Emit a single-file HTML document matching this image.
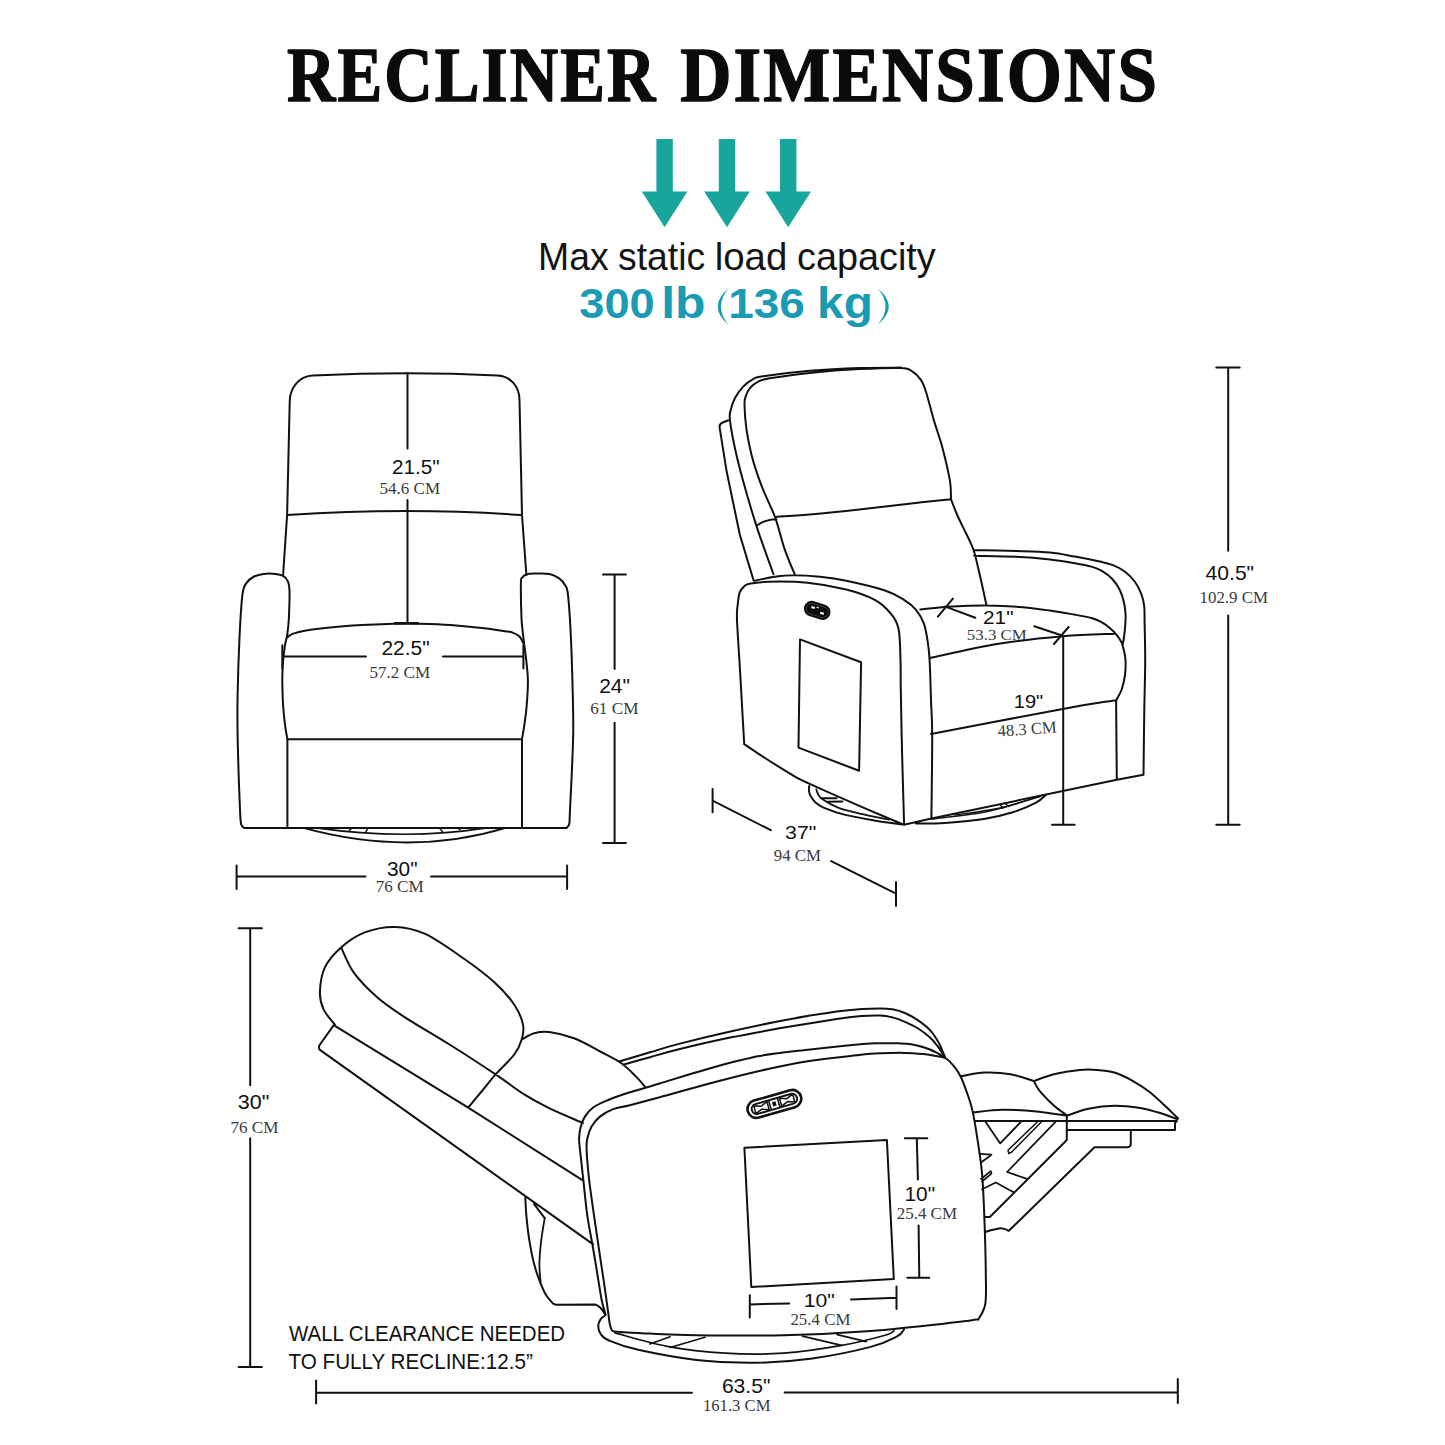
<!DOCTYPE html>
<html><head><meta charset="utf-8"><title>Recliner Dimensions</title>
<style>html,body{margin:0;padding:0;background:#fff}body{width:1445px;height:1445px;overflow:hidden;font-family:"Liberation Sans",sans-serif}svg{display:block}</style>
</head><body>
<svg width="1445" height="1445" viewBox="0 0 1445 1445">
<rect width="1445" height="1445" fill="#fff"/>
<text transform="translate(287,100.6) scale(0.858,1)" font-family="Liberation Serif, serif" font-size="78.2" font-weight="bold" fill="#0b0b0b" stroke="#0b0b0b" stroke-width="1.5" stroke-linejoin="round" letter-spacing="2.4">RECLINER</text>
<text transform="translate(680.2,100.6) scale(0.907,1)" font-family="Liberation Serif, serif" font-size="78.2" font-weight="bold" fill="#0b0b0b" stroke="#0b0b0b" stroke-width="1.5" stroke-linejoin="round" letter-spacing="2.4">DIMENSIONS</text>
<path d="M656.4,139h16.4v52.6h14.6l-22.8,35.6l-22.8,-35.6h14.6z" fill="#17a59c"/>
<path d="M718.8,139h16.4v52.6h14.6l-22.8,35.6l-22.8,-35.6h14.6z" fill="#17a59c"/>
<path d="M780,139h16.4v52.6h14.6l-22.8,35.6l-22.8,-35.6h14.6z" fill="#17a59c"/>
<text transform="translate(538.1,270) scale(0.959,1)" font-family="Liberation Sans, sans-serif" font-size="39" fill="#141414">Max</text>
<text transform="translate(618,270) scale(0.959,1)" font-family="Liberation Sans, sans-serif" font-size="39" fill="#141414">static</text>
<text transform="translate(714.7,270) scale(0.985,1)" font-family="Liberation Sans, sans-serif" font-size="39" fill="#141414">load</text>
<text transform="translate(797,270) scale(0.970,1)" font-family="Liberation Sans, sans-serif" font-size="39" fill="#141414">capacity</text>
<text transform="translate(579.3,318.1) scale(1.072,1)" font-family="Liberation Sans, sans-serif" font-size="42.2" font-weight="bold" fill="#1a9bb3">300</text>
<text transform="translate(661.2,318.1) scale(1.141,1)" font-family="Liberation Sans, sans-serif" font-size="43.7" font-weight="bold" fill="#1a9bb3">lb</text>
<text transform="translate(728.2,318.1) scale(1.088,1)" font-family="Liberation Sans, sans-serif" font-size="42.2" font-weight="bold" fill="#1a9bb3">136</text>
<text transform="translate(817.1,318.1) scale(1.092,1)" font-family="Liberation Sans, sans-serif" font-size="43.7" font-weight="bold" fill="#1a9bb3">kg</text>
<path d="M728.4,288.2Q707,306.5 728.4,324.7Q713.6,306.5 728.4,288.2ZM877.7,288.2Q899.9,306.5 877.7,324.7Q893.3,306.5 877.7,288.2Z" fill="#1a9bb3"/>
<path d="M283.1,575L287.1,515L289.7,402C289.7,387 299.7,376 313,375.5Q408,370.9 497.5,375.5C510,376 519.4,386 519.5,400L522,515L526.4,575M287.1,515.1Q408,506.9 521.9,515.1M244.4,828C243.9,827.4 241.9,827.2 241.2,824.5C240.5,821.8 240.5,820.4 240.1,811.8C239.7,803.2 239,786 238.6,773.1C238.2,760.2 237.8,747.2 237.6,734.3C237.4,721.4 237.3,711.7 237.6,695.6C237.9,679.5 238.7,654.3 239.5,637.5C240.3,620.7 241.3,603.9 242.4,594.9C243.5,585.9 244.4,586.3 246.3,583.2C248.2,580.1 251.2,578 254.1,576.5C257,575 260.1,574.3 263.7,573.9C267.2,573.5 272.2,573.6 275.4,573.9C278.6,574.2 281,574.7 283.1,575.9C285.2,577.1 286.8,578.8 287.9,581.3C289,583.8 289.3,584.9 289.5,591C289.7,597.1 289.2,611 288.9,618.1C288.5,625.2 288,629.1 287.4,633.6C286.8,638.1 285.7,640.7 285,645.2C284.3,649.7 283.6,654.9 283.1,660.7C282.7,666.5 282.3,672.7 282.3,680.1C282.3,687.5 282.7,697.9 283.1,705.3C283.6,712.7 284.3,719.1 285,724.7C285.7,730.4 287,736.8 287.4,739.2M566.6,827.9C567,827.2 568.7,826.7 569.2,824C569.8,821.3 569.5,820.3 569.9,811.8C570.3,803.3 571.2,786 571.8,773.1C572.3,760.2 573,747.2 573.2,734.3C573.4,721.4 573.2,711.7 572.8,695.6C572.4,679.5 571.7,654.3 570.9,637.5C570.1,620.7 569,603.6 568,594.9C567,586.2 566.6,588 565.1,585.2C563.6,582.5 561.8,580.3 559.2,578.4C556.6,576.5 553.8,574.7 549.6,573.9C545.4,573.1 538,573.5 534.1,573.6C530.2,573.7 528.2,573.9 526.3,574.5C524.3,575.1 523.3,575.9 522.4,577.4C521.5,578.9 521,576.4 520.9,583.2C520.8,590 521.1,609.1 521.5,618.1C521.9,627.1 522.6,630.4 523.4,637.5C524.2,644.6 525.5,653.6 526.3,660.7C527,667.8 527.8,672.7 527.9,680.1C528,687.5 527.3,697.9 526.7,705.3C526.1,712.7 525.2,719.1 524.4,724.7C523.6,730.4 522.4,736.8 522,739.2M287.4,637.5C288,637 289.3,635.4 290.9,634.6C292.4,633.8 293.7,633.4 296.7,632.6C299.7,631.8 302.5,630.9 308.9,630C315.3,629.1 326.4,627.9 335.2,627.1C344,626.3 352.7,625.6 361.5,625.1C370.3,624.6 380.1,624.2 387.8,624C395.5,623.8 400.5,623.6 407.5,623.6C414.5,623.6 421.9,623.7 430,624C438.1,624.3 447.3,624.7 456,625.4C464.7,626.1 473.8,627 482,628C490.2,629 499.9,630.5 505,631.3C510.1,632.1 510.3,631.7 512.7,632.6C515.1,633.5 517.7,634.7 519.5,636.5C521.3,638.3 522.8,642.2 523.4,643.3M287.4,739.2L522,739.2M287.4,739.2L287.4,828M522,739.2L522,828M244.4,828L566.6,828M303.4,827.9Q409.6,857 505.8,827.9" fill="none" stroke="#111" stroke-width="2" stroke-linecap="round" stroke-linejoin="round"/>
<path d="M316,827.9Q406,840.5 486.9,827.9" fill="none" stroke="#111" stroke-width="1.6" stroke-linecap="round" stroke-linejoin="round"/>
<path d="M352,827.9L349.3,830.6M368.2,827.9L365.5,832.4M439.2,827.9L442.8,832M458.1,827.9L460,829.7" fill="none" stroke="#111" stroke-width="1.4" stroke-linecap="round" stroke-linejoin="round"/>
<path d="M407.5,373L407.5,448.6M407.5,500L407.5,622.2M282.3,656.4L366,656.4M443,656.6L523.4,656.6M282.3,645.2L282.3,668.5M523.4,645.2L523.4,668.5M614.6,574.6L614.6,669M614.6,722.8L614.6,843M603,574.6L625.9,574.6M603,843L625.9,843M236.6,876.6L365.5,876.6M431,876.6L567.1,876.6M236.6,865.6L236.6,888.9M567.1,865.6L567.1,888.9" fill="none" stroke="#111" stroke-width="2" stroke-linecap="round" stroke-linejoin="round"/>
<path d="M395,623.2L418,623.2" fill="none" stroke="#111" stroke-width="2.4" stroke-linecap="round" stroke-linejoin="round"/>
<text transform="translate(392,473.6) scale(1.063,1)" font-family="Liberation Sans, sans-serif" font-size="19.5" fill="#111">21.5&quot;</text>
<text transform="translate(379.4,494.1) scale(1.022,1)" font-family="Liberation Serif, serif" font-size="16.7" fill="#3a3a3a">54.6 CM</text>
<text transform="translate(381.4,654.7) scale(1.071,1)" font-family="Liberation Sans, sans-serif" font-size="19.6" fill="#111">22.5&quot;</text>
<text transform="translate(369.4,677.5) scale(1.037,1)" font-family="Liberation Serif, serif" font-size="16.5" fill="#3a3a3a">57.2 CM</text>
<text transform="translate(599.2,693.4) scale(1.055,1)" font-family="Liberation Sans, sans-serif" font-size="19.9" fill="#111">24&quot;</text>
<text transform="translate(590.3,713.7) scale(1.086,1)" font-family="Liberation Serif, serif" font-size="15.8" fill="#3a3a3a">61 CM</text>
<text transform="translate(387,875.6) scale(1.068,1)" font-family="Liberation Sans, sans-serif" font-size="19.5" fill="#111">30&quot;</text>
<text transform="translate(375.7,892.2) scale(1.075,1)" font-family="Liberation Serif, serif" font-size="15.9" fill="#3a3a3a">76 CM</text>
<path d="M794.7,574.2C793,570.1 787.9,558.6 784.7,549.3C781.5,540 778.4,526.6 775.6,518.6C772.8,510.6 770.7,507.4 768.1,501.2C765.5,495 762.6,488.9 759.8,481.2C757,473.4 753.7,463.3 751.5,454.7C749.3,446.1 747.7,438 746.5,429.7C745.3,421.4 744.6,410.3 744.5,404.8C744.4,399.3 744.8,399.3 745.7,396.5C746.6,393.7 747.8,390.7 749.9,388.2C752,385.7 754.9,383.2 758.2,381.6C761.5,380 761.2,379.8 769.8,378.3C778.4,376.9 794.8,374.4 809.7,372.9C824.7,371.4 844.3,369.9 859.5,369.1C874.7,368.3 892.1,367.6 901,368C909.9,368.4 909.3,369.6 912.6,371.6C915.9,373.6 918.7,376.6 920.9,379.9C923.1,383.2 923.7,384.6 925.9,391.5C928.1,398.4 931.4,412 934.2,421.4C937,430.8 939.9,438 942.5,448C945.1,458 948.6,472.7 950,481.2C951.4,489.7 950.8,496.2 951,499.2M951,499.2C952,501.8 954.8,509.5 957,514.5C959.2,519.5 961.9,524.9 964.1,529.4C966.3,533.9 968.3,537.6 970,541.5C971.7,545.4 972.8,546.9 974.5,553C976.2,559.1 978.5,569.3 980.5,578C982.5,586.7 985.5,600.8 986.5,605.4M773.5,574.2C770.7,566.2 761.5,541.6 756.5,526.1C751.5,510.6 746.8,494.2 743.2,481.2C739.6,468.2 737.1,458.2 734.9,448C732.7,437.8 730.6,426.2 729.9,419.8C729.2,413.4 730,413.4 730.8,409.8C731.6,406.2 732.8,402.1 734.9,398.2C737,394.3 740.2,389.8 743.2,386.6C746.2,383.4 749.9,380.8 753.2,379.1C756.5,377.4 753.7,377.7 763.1,376.3C772.5,374.9 793.6,372.2 809.7,370.8C825.8,369.4 844.3,368.5 859.5,368C874.7,367.5 894.1,367.7 901,367.6M756.5,525.7C757.6,525.1 760.9,522.9 763.1,521.9C765.3,520.9 767.6,520.3 769.8,519.9C772,519.5 775.3,519.3 776.4,519.2M775.6,516.9C781.3,516.5 795.7,515.6 809.7,514.4C823.7,513.2 842.9,511.3 859.5,509.5C876.1,507.7 894,505.4 909.3,503.7C924.5,502 944,499.9 951,499.2M729.9,419.8L723.3,422.3Q719,424 719.6,427.4L726.6,471.3L739.9,535L753.6,580.4M744.2,744.1C743.5,731.8 741.2,690.7 740,670C738.8,649.3 737.4,631 737,620C736.6,609 737.3,608.6 737.8,604C738.2,599.4 738.7,595.3 739.7,592.4C740.7,589.5 742.4,588 744,586.5C745.6,585 745.3,584.5 749.4,583.7C753.5,582.9 759.1,581.9 768.8,581.7C778.5,581.5 794.6,581.4 807.5,582.7C820.4,584 835,586.6 846.3,589.5C857.6,592.4 867.9,596.1 875.3,600.1C882.7,604.1 886.9,608.9 890.8,613.7C894.7,618.6 897,621.5 898.6,629.2C900.2,636.9 900.1,649.9 900.5,660C900.9,670.1 900.5,674.4 900.8,690C901.1,705.6 901.5,731.4 902.1,753.8C902.7,776.2 903.8,812.7 904.1,824.5M744.2,744.1C747.7,746.4 757.4,753.1 765,758C772.6,762.9 783.9,769.9 790,773.6C796.1,777.3 794.9,776.9 801.7,780.2C808.5,783.5 821.1,789.1 830.8,793.4C840.5,797.7 850.2,802 859.9,806.2C869.6,810.4 881.5,815.4 888.9,818.5C896.2,821.6 901.5,823.7 904,824.7M754.2,580.8C757.7,580.1 768.4,577.7 775,576.8C781.6,575.9 786.4,575.3 793.9,575.3C801.4,575.3 811.3,575.9 820,576.8C828.7,577.7 835.5,578.5 846.3,580.8C857.1,583.1 875.3,587.3 885,590.5C894.7,593.7 899.2,596.9 904.4,600.1C909.6,603.3 912.8,605.9 916,609.8C919.2,613.7 921.9,618.2 923.8,623.4C925.7,628.6 926.6,634.7 927.6,640.8C928.6,646.9 929,650.1 929.6,660C930.2,669.9 930.6,687.6 931,700C931.4,712.4 932.1,714.6 932.2,734.4C932.3,754.2 931.5,804.6 931.4,818.6M904,824.7L931.5,818.5L1116.9,779.7L1143.5,774.7M930,658C941.1,655.7 974.8,647.6 996.9,644C1019,640.4 1043.1,637.9 1062.8,636.2C1082.5,634.5 1106.1,634.1 1114.8,633.7M931,734.1C953,729.9 1032,714.5 1062.8,708.9C1093.6,703.2 1107.2,701.7 1116.1,700.2M1116.1,700.2L1116.8,779.7M920.3,609.5C925.7,609 941.4,607.1 952.5,606.5C963.6,605.9 976,605.5 987.2,605.6C998.5,605.7 1009.5,606.2 1020,607C1030.5,607.8 1040.8,609.3 1050,610.6C1059.2,611.9 1068,613.5 1074.9,614.7C1081.8,615.9 1087.1,616.8 1091.5,618C1095.9,619.2 1098.5,620.5 1101.5,622.2C1104.5,623.9 1107.3,625.9 1109.8,628C1112.3,630.1 1114.5,632.2 1116.4,634.6C1118.3,637 1120.2,639.5 1121.4,642.1C1122.6,644.7 1123.1,647 1123.8,650C1124.5,653 1125.3,655.8 1125.5,660C1125.7,664.2 1125.7,670 1125,675C1124.3,680 1123,685.8 1121.5,690C1120,694.2 1117,698.5 1116.1,700.2M973.6,550C980.7,550.2 1003.6,550.6 1016.3,551C1029,551.4 1040.2,551.6 1050,552.5C1059.8,553.4 1066.6,555.1 1074.9,556.6C1083.2,558.1 1093.6,560.2 1099.8,561.6C1106,563 1108.1,563.2 1112.3,564.9C1116.5,566.5 1121,568.7 1124.7,571.5C1128.4,574.3 1131.9,577.8 1134.7,581.5C1137.5,585.2 1139.7,589.9 1141.3,594C1142.9,598.1 1143.7,601.6 1144.2,606.4C1144.8,611.2 1144.4,614.1 1144.6,623C1144.8,631.9 1145.2,645.5 1145.2,660C1145.2,674.5 1144.6,690.9 1144.3,710C1144,729.1 1143.6,763.9 1143.5,774.7M974.2,555.8C981.2,556 1003.7,556.2 1016.3,556.8C1028.9,557.4 1040.2,558.4 1050,559.5C1059.8,560.6 1068,562 1074.9,563.2C1081.8,564.4 1087.1,565.4 1091.5,566.6C1095.9,567.9 1098,568.6 1101.5,570.7C1105,572.8 1109.3,575.8 1112.3,579C1115.3,582.2 1117.8,585.9 1119.7,589.8C1121.6,593.7 1122.9,598.1 1123.9,602.3C1124.9,606.4 1125.4,610.6 1125.6,614.7C1125.8,618.9 1125.4,623.3 1125.1,627.2C1124.8,631.1 1124.3,635.1 1123.9,638C1123.5,640.9 1122.8,643.5 1122.6,644.6M800,639.4L861.1,662.3L859.1,770.8L798.5,747.6ZM809.2,786C809.2,786.8 808.8,789.3 809,791C809.2,792.7 809.5,794.1 810.6,796C811.7,797.9 813.4,800.5 815.5,802.4C817.6,804.3 818.5,805.5 823.5,807.6C828.5,809.7 836.8,812.8 845.3,814.9C853.8,817 864.8,818.8 874.4,820.4C884,822 898.2,823.8 903,824.5M916,823.6C920.8,823.5 933.7,823.8 945,823C956.3,822.2 972.5,820.9 983.8,819.1C995.1,817.3 1004.1,815 1012.8,812.3C1021.5,809.5 1030.6,805.5 1036.1,802.6C1041.6,799.7 1044.2,796.2 1045.8,794.9M822.5,798.2L836.6,798.2M827.9,801.8L842.4,801.5" fill="none" stroke="#111" stroke-width="2" stroke-linecap="round" stroke-linejoin="round"/>
<path d="M816.3,789.4C816.6,790.2 817,792.4 818,794C819,795.6 818.8,796.6 822.1,798.9C825.5,801.2 831.8,805.1 838.1,807.6C844.4,810.1 851.4,811.6 859.9,813.6C868.4,815.6 884.1,818.6 888.9,819.6" fill="none" stroke="#111" stroke-width="1.8" stroke-linecap="round" stroke-linejoin="round"/>
<path d="M931.5,819.1C940.2,818 968.6,815.2 983.8,812.3C999,809.4 1013.1,804.3 1022.5,801.7C1031.9,799.1 1037.1,797.4 1040,796.5" fill="none" stroke="#111" stroke-width="1.5" stroke-linecap="round" stroke-linejoin="round"/>
<path d="M954.7,815.2C962.8,813.9 990.5,810.2 1003.2,807.5C1016,804.8 1026.5,800.2 1031.2,798.8" fill="none" stroke="#111" stroke-width="1.3" stroke-linecap="round" stroke-linejoin="round"/>
<path d="M1000.2,805L1003.2,808M1006,804.2L1009,806.5" fill="none" stroke="#111" stroke-width="1.4" stroke-linecap="round" stroke-linejoin="round"/>
<g transform="translate(817.2,610.4) rotate(17.5)"><rect x="-13.6" y="-7.8" width="27.2" height="15.6" rx="7.8" fill="#0a0a0a"/><rect x="-11.2" y="-5.4" width="22.4" height="10.8" rx="5.4" fill="none" stroke="#555" stroke-width="0.6"/><rect x="-6.6" y="-2.6" width="3.6" height="2.2" fill="#fff"/><rect x="3.6" y="0.2" width="3.8" height="2.2" fill="#fff"/><rect x="-1.6" y="-3.6" width="2.4" height="1.3" fill="#ddd"/></g>
<path d="M945.4,606.6L975.3,617.8M937.9,616.6L952.9,598.6M1034.3,626.2L1062.8,635.7M1054,644L1068.6,627M1063.2,635.7L1063.2,824.8M1052,824.8L1074.7,824.8M712.6,789L712.6,812.3M712.6,800.7L770.8,830.2M831.2,861.1L896,893.7M896,882L896,906M1228.2,367.6L1228.2,550.7M1228.2,615.5L1228.2,824.7M1216.3,367.6L1239.7,367.6M1216.3,824.7L1239.7,824.7" fill="none" stroke="#111" stroke-width="2" stroke-linecap="round" stroke-linejoin="round"/>
<text transform="translate(983,623.9) scale(1.125,1)" font-family="Liberation Sans, sans-serif" font-size="18.5" fill="#111">21&quot;</text>
<text transform="translate(966.8,639.9) scale(1.112,1)" font-family="Liberation Serif, serif" font-size="15.2" fill="#3a3a3a">53.3 CM</text>
<text transform="translate(1013.8,707.6) scale(1.061,1)" font-family="Liberation Sans, sans-serif" font-size="18.9" fill="#111">19&quot;</text>
<text transform="translate(998.1,736.6) rotate(-4) scale(0.994,1)" font-family="Liberation Serif, serif" font-size="16.7" fill="#3a3a3a">48.3 CM</text>
<text transform="translate(785,838.9) scale(1.119,1)" font-family="Liberation Sans, sans-serif" font-size="19.1" fill="#111">37&quot;</text>
<text transform="translate(773.8,861.1) scale(1.039,1)" font-family="Liberation Serif, serif" font-size="16.2" fill="#3a3a3a">94 CM</text>
<text transform="translate(1205.6,580.4) scale(1.044,1)" font-family="Liberation Sans, sans-serif" font-size="20.2" fill="#111">40.5&quot;</text>
<text transform="translate(1199.5,602.9) scale(1.026,1)" font-family="Liberation Serif, serif" font-size="16.5" fill="#3a3a3a">102.9 CM</text>
<path d="M334.9,1024.6C333,1022.1 326.2,1015.1 323.7,1009.7C321.2,1004.3 319.7,999.3 319.9,992.2C320.1,985.1 321.4,974.8 324.9,967.3C328.4,959.8 334.5,953.2 341.1,947.4C347.8,941.6 355.9,935.8 364.8,932.4C373.7,929 384.7,926.7 394.7,926.9C404.7,927.1 413.4,928.6 424.6,933.7C435.8,938.8 450.3,949.2 461.9,957.3C473.5,965.4 485.6,974.3 494.3,982.2C503,990.1 509.5,997.6 514.3,1004.7C519.1,1011.8 521.8,1018.8 523,1024.6C524.2,1030.4 523.2,1034.5 521.7,1039.5C520.2,1044.5 518.6,1048.7 514.3,1054.5C509.9,1060.3 501,1068.3 495.6,1074.4C490.2,1080.5 486.6,1085.5 482,1091C477.4,1096.5 470.5,1104.8 468.2,1107.6M341.1,947.4C343.2,951.5 347.6,964 353.6,972.3C359.6,980.6 368.7,989.7 377.2,997.2C385.7,1004.7 392.6,1009.2 404.6,1017.1C416.7,1025 434.3,1035 449.5,1044.5C464.7,1054 483.2,1066.1 495.6,1074.4C508.1,1082.7 515.3,1088.8 524.2,1094.4C533.1,1100 539.3,1103.3 549.1,1108.1C558.9,1112.9 577.2,1120.5 582.8,1123M334.9,1025.8L468.2,1107.6L583.6,1180.8M333.6,1025.4L319.6,1045Q317.8,1048.4 320.6,1050.4L593.2,1244.4M521.7,1039.5C523.8,1038.5 529.6,1034.5 534.2,1033.3C538.8,1032.1 542.5,1031.3 549.1,1032.1C555.7,1032.9 565.7,1035.2 574,1038.3C582.3,1041.4 591.1,1046.6 599,1050.8C606.9,1055 615.2,1058.8 621.4,1063.2C627.6,1067.6 632.3,1072.9 636.3,1076.9C640.3,1080.9 644,1085.5 645.5,1087.2M620,1061.3C625,1059.8 640.2,1055.2 650,1052.3C659.8,1049.4 665.3,1047.4 678.9,1043.9C692.5,1040.4 714,1035.2 731.5,1031.3C749,1027.3 766.6,1023.5 784.1,1020.2C801.6,1016.9 823.7,1013.5 836.7,1011.6C849.7,1009.7 854.8,1009.5 862,1009C869.2,1008.5 874.9,1008.4 880,1008.4C885.1,1008.4 888.4,1008.5 892.5,1009.3C896.6,1010.1 900.8,1011.2 904.9,1013C909,1014.8 913.2,1017.1 917.4,1019.9C921.5,1022.7 926.3,1026.2 929.8,1029.9C933.3,1033.6 936.2,1038.4 938.5,1042.3C940.8,1046.2 942.4,1050.9 943.5,1053.5C944.6,1056.1 945.1,1057.2 945.4,1057.9M623,1064.8C627.5,1063.5 640.7,1059.8 650,1057.2C659.3,1054.6 665.3,1052.5 678.9,1049.2C692.5,1045.9 714,1040.9 731.5,1037.3C749,1033.7 766.6,1030.7 784.1,1027.6C801.6,1024.5 823.7,1020.8 836.7,1018.9C849.7,1017 854.8,1016.6 862,1016C869.2,1015.4 874.9,1015.3 880,1015.5C885.1,1015.7 888.4,1016.4 892.5,1017.4C896.6,1018.4 900.8,1020 904.9,1021.8C909,1023.6 913.2,1025.4 917.4,1028C921.5,1030.6 926.3,1034.1 929.8,1037.3C933.3,1040.5 936.1,1044.1 938.5,1047.3C940.9,1050.5 943.2,1055 944.2,1056.6M605.7,1314.9C605.4,1313.9 604.7,1311.7 604,1309.1C603.3,1306.5 602.6,1305 601.5,1299.2C600.4,1293.4 598.9,1283.4 597.4,1274.3C595.9,1265.2 594.1,1254.1 592.4,1244.4C590.7,1234.7 588.9,1227 587.4,1216.2C585.9,1205.4 584.5,1190.8 583.3,1179.7C582.1,1168.6 580.7,1156.7 580,1149.8C579.3,1142.9 579,1142.1 579.1,1138.2C579.2,1134.3 579.8,1130.2 580.8,1126.6C581.8,1123 582.8,1119.8 584.9,1116.6C587,1113.4 589.3,1110.3 593.2,1107.5C597.1,1104.7 603.4,1102.1 608.2,1100C613.1,1097.9 613.7,1097.5 622.3,1094.7C630.9,1092 645.2,1087.9 659.7,1083.5C674.2,1079.1 692.9,1073.1 709.5,1068.5C726.1,1063.9 742.5,1059.3 759.3,1056.1C776.1,1052.9 793.1,1051.5 810.4,1049.5C827.7,1047.5 851.4,1045 863,1044C874.6,1043 874,1043.4 880,1043.3C886,1043.2 893.5,1043.1 898.7,1043.3C903.9,1043.5 907,1043.5 911.1,1044.2C915.2,1044.9 919.4,1046 923.6,1047.3C927.8,1048.6 932.5,1050.5 936.1,1052.3C939.7,1054.1 943.9,1057 945.4,1057.9M618.1,1331.8C617.1,1331.6 613.7,1332 612.3,1330.7C610.9,1329.4 610.5,1327.1 609.8,1324.1C609.1,1321 609.2,1319.3 608.2,1312.4C607.2,1305.5 605.5,1293.1 604,1282.6C602.5,1272.1 600.6,1260.5 599,1249.4C597.4,1238.3 595.8,1227.8 594.1,1216.2C592.5,1204.6 590.4,1190.8 589.1,1179.7C587.9,1168.6 586.9,1156.7 586.6,1149.8C586.3,1142.9 586.6,1142.1 587.4,1138.2C588.2,1134.3 589.5,1130.2 591.6,1126.6C593.7,1123 596.3,1119.5 599.9,1116.6C603.5,1113.7 608.2,1111 613.2,1109.1C618.2,1107.2 622,1107.2 629.8,1105.2C637.5,1103.2 646.4,1100.8 659.7,1097.2C673,1093.6 692.9,1087.9 709.5,1083.5C726.1,1079.1 742.7,1074.8 759.3,1071C775.9,1067.2 792.5,1063.7 809.1,1061C825.7,1058.3 847.2,1056.3 859,1055C870.8,1053.7 872.4,1053.6 880,1053.3C887.6,1053 897.6,1052.8 904.9,1052.9C912.2,1053 918.4,1053.6 923.6,1054.1C928.8,1054.6 932.4,1055.3 936.1,1056C939.8,1056.7 942.9,1056.6 946,1058.5C949.1,1060.4 952.2,1064.1 954.7,1067.2C957.2,1070.3 958.9,1072.8 961,1077.2C963.1,1081.6 965.3,1088 967.2,1093.4C969.1,1098.8 970.6,1102.3 972.2,1109.6C973.9,1116.9 975.5,1126.2 977.1,1137C978.8,1147.8 980.9,1159.9 982.1,1174.4C983.4,1188.9 984,1207.6 984.6,1224.2C985.2,1240.8 985.7,1260.8 985.8,1274.1C985.9,1287.4 986.5,1296.4 985.3,1304C984,1311.6 979.5,1317 978.3,1319.6M618.1,1331.8C623.4,1332.1 637,1333 650,1333.6C663,1334.2 674,1334.9 696.3,1335.2C718.5,1335.5 754.4,1335.9 783.5,1335.2C812.6,1334.5 841.6,1333.1 870.7,1330.9C899.8,1328.7 940,1324 957.9,1322.1C975.8,1320.1 974.8,1319.7 978.2,1319.2M744.4,1147.7L886.9,1140L893.8,1279L751.3,1287ZM525.3,1197.6C525.5,1200.8 525.8,1209.9 526.5,1217.1C527.2,1224.3 528.1,1232.8 529.4,1240.6C530.7,1248.4 532.3,1257.2 534.1,1264.1C535.9,1271 538,1276.7 540,1281.8C542,1286.9 543.8,1291.1 545.9,1294.7C548,1298.3 551.7,1302 552.9,1303.5M534.1,1204.1L544.7,1218.2M552.9,1303.5L556,1304.8L594.9,1304.5Q600.7,1306 604.9,1314.1M605.7,1314.9C604.9,1315.6 602,1317.3 600.7,1319.1C599.5,1320.9 598.2,1323.2 598.2,1325.7C598.2,1328.2 598.9,1331.5 600.7,1334C602.5,1336.5 602.9,1337.9 609.1,1340.5C615.3,1343.1 623.6,1346.6 638.1,1349.8C652.6,1353 676.9,1357.7 696.3,1359.9C715.7,1362.1 735,1363 754.4,1362.8C773.8,1362.6 793.1,1361.2 812.5,1358.5C831.9,1355.8 856.7,1350.5 870.7,1346.9C884.8,1343.3 891.2,1339.6 896.8,1336.7C902.4,1333.8 902.9,1330.6 904.1,1329.4M962.1,1076C965.9,1075.4 976.5,1072.8 984.6,1072.5C992.7,1072.2 1002.4,1072.8 1010.6,1074.2C1018.8,1075.6 1030,1079.9 1033.9,1081.1M1033.9,1081.1C1034.4,1082.1 1035.7,1085 1037,1087C1038.3,1089 1038.9,1090.2 1041.7,1093.3C1044.5,1096.4 1049.6,1101.7 1053.8,1105.4C1058,1109.1 1064.6,1113.7 1066.8,1115.4M973.4,1112.3C978.1,1111.9 991.4,1109.8 1001.9,1109.7C1012.4,1109.6 1025.7,1110.4 1036.5,1111.4C1047.3,1112.4 1061.8,1115 1066.8,1115.7M1033.9,1081.1C1037.2,1079.9 1046.2,1076.1 1053.8,1074.2C1061.4,1072.3 1072.6,1070.6 1079.8,1069.9C1087,1069.2 1091.3,1069.5 1097.1,1069.9C1102.9,1070.3 1108.6,1070.8 1114.4,1072.5C1120.2,1074.2 1125.9,1077.1 1131.7,1080.3C1137.5,1083.5 1143.2,1087 1149,1091.5C1154.8,1096 1161.5,1102.6 1166.3,1107.1C1171.1,1111.6 1176,1116.4 1178,1118.3M1066.8,1115.7C1070.4,1114.5 1080.5,1110.5 1088.4,1108.8C1096.3,1107.1 1105.8,1105.8 1114.4,1105.7C1123.1,1105.6 1133.1,1106.9 1140.3,1108C1147.5,1109.1 1151.4,1110.4 1157.6,1112.3C1163.8,1114.2 1174.2,1118 1177.5,1119.2M975.5,1121L1176.8,1121L1175,1123L1175,1129.9L1066.8,1129.9M1066.8,1116L1066.8,1140M1130.8,1129.9L1130.8,1144.3Q1130.6,1147.2 1127.8,1147.2L1094.5,1147.2L1008.8,1230.8Q1002,1227 996.7,1229.1Q990,1230 985.5,1232M1066.8,1140L989.8,1217L984.6,1217" fill="none" stroke="#111" stroke-width="2" stroke-linecap="round" stroke-linejoin="round"/>
<path d="M544.7,1218.2C544.1,1221.9 542.1,1232.9 541.2,1240.6C540.3,1248.2 539.5,1257.2 539.4,1264.1C539.3,1271 540.4,1278.8 540.6,1281.8M985.5,1121.8L1000.2,1143.4L1020.9,1121.8M1055.5,1121.8L1007.1,1172L1027,1178.9" fill="none" stroke="#111" stroke-width="1.8" stroke-linecap="round" stroke-linejoin="round"/>
<path d="M614.9,1332.9C623.6,1335.1 648.8,1342.9 667.2,1346.3C685.6,1349.7 705.9,1352 725.3,1353.2C744.7,1354.4 764.1,1354.5 783.5,1353.2C802.9,1351.9 824.6,1348.4 841.6,1345.4C858.6,1342.4 876.5,1337.6 885.2,1335.2C893.9,1332.8 892.5,1331.6 893.9,1330.9M982,1189.3L995.8,1182.4L1013.1,1191.9M979.5,1153.8L991.5,1154.7L981,1162.5M981,1179L990.7,1171.1L991.5,1173.7L982,1181.5" fill="none" stroke="#111" stroke-width="1.7" stroke-linecap="round" stroke-linejoin="round"/>
<path d="M649.8,1343.9L670.1,1336.7M670.1,1347.4L705,1337.3M802.4,1336.1L841.6,1345.4M837.2,1334.6L866.3,1341.6" fill="none" stroke="#111" stroke-width="1.6" stroke-linecap="round" stroke-linejoin="round"/>
<path d="M1037.5,1121.8L1008,1150.3L1008.8,1153.5L1011.5,1152.3L1041,1122.2" fill="none" stroke="#111" stroke-width="1.5" stroke-linecap="round" stroke-linejoin="round"/>
<g transform="translate(774.4,1103.9) rotate(-16)" fill="none" stroke="#111" stroke-linejoin="round"><rect x="-27.6" y="-8.8" width="55.2" height="17.6" rx="8.8" stroke-width="2.6"/><rect x="-23.4" y="-5" width="46.8" height="10" rx="5" stroke-width="1.9"/><path d="M-20.4,-3.9l6.9,2.5l6.9,-2.7v8.2l-6.9,-2.5l-6.9,2.7zM6.4,-4.1l6.9,2.5l6.9,-2.7v8.2l-6.9,-2.5l-6.9,2.7zM-4.6,-4.8v9.6M4.4,-4.8v9.6" stroke-width="1.5"/><rect x="-1.9" y="-2.2" width="3.6" height="4.4" fill="#111" stroke="none"/></g>
<path d="M916.8,1138.3L917.9,1179.4M918.6,1225.5L919.3,1277.8M904.8,1138.3L927.3,1138.3M907.3,1277.8L929.3,1277.8M749.8,1295.2L749.8,1317.6M749.8,1304.4L789.2,1303.5M851,1299.5L896.5,1297.7M896.5,1286.5L896.5,1308.9M250.2,928.3L250.2,1085.2M250.2,1138.3L250.2,1367M238.6,928.3L261.9,928.3M238.6,1367L261.9,1367M316.1,1380.5L316.1,1403.4M316.1,1392.7L692,1392.7M784.6,1392.6L1177.8,1392.6M1177.8,1379L1177.8,1403" fill="none" stroke="#111" stroke-width="2" stroke-linecap="round" stroke-linejoin="round"/>
<text transform="translate(904.5,1200.6) scale(1.037,1)" font-family="Liberation Sans, sans-serif" font-size="20.1" fill="#111">10&quot;</text>
<text transform="translate(896.7,1219.2) scale(1.067,1)" font-family="Liberation Serif, serif" font-size="15.9" fill="#3a3a3a">25.4 CM</text>
<text transform="translate(803.8,1307.4) scale(1.103,1)" font-family="Liberation Sans, sans-serif" font-size="19.2" fill="#111">10&quot;</text>
<text transform="translate(790.4,1325.2) scale(1.042,1)" font-family="Liberation Serif, serif" font-size="16.2" fill="#3a3a3a">25.4 CM</text>
<text transform="translate(237.8,1109.3) scale(1.102,1)" font-family="Liberation Sans, sans-serif" font-size="19.5" fill="#111">30&quot;</text>
<text transform="translate(230.5,1132.5) scale(1.056,1)" font-family="Liberation Serif, serif" font-size="16.2" fill="#3a3a3a">76 CM</text>
<text transform="translate(721.9,1393) scale(1.034,1)" font-family="Liberation Sans, sans-serif" font-size="20.4" fill="#111">63.5&quot;</text>
<text transform="translate(702.9,1410.8) scale(1.030,1)" font-family="Liberation Serif, serif" font-size="16.2" fill="#3a3a3a">161.3 CM</text>
<text transform="translate(288.9,1341) scale(0.958,1)" font-family="Liberation Sans, sans-serif" font-size="21.4" fill="#111">WALL CLEARANCE NEEDED</text>
<text transform="translate(288.5,1368.9) scale(0.965,1)" font-family="Liberation Sans, sans-serif" font-size="21.4" fill="#111">TO FULLY RECLINE:12.5”</text>
</svg>
</body></html>
